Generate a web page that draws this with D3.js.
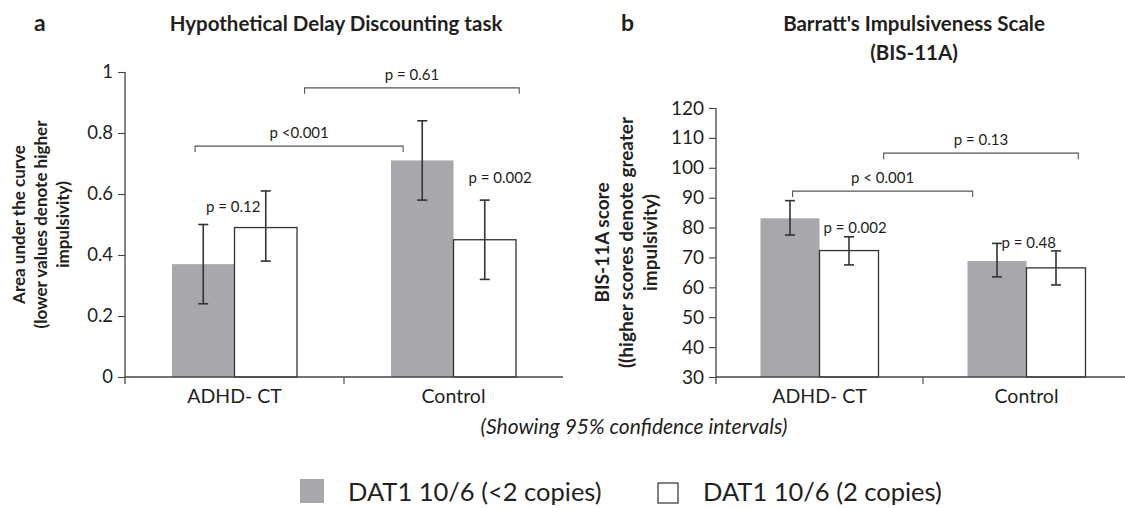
<!DOCTYPE html>
<html>
<head>
<meta charset="utf-8">
<script src="https://cdn.jsdelivr.net/npm/d3@7"></script>
<style>
  body { margin: 0; background: #fff; }
  svg { display: block; font-family: Lato, "Open Sans", sans-serif; }
  text { fill: #231f20; }
</style>
</head>
<body>
<svg id="chart" width="1125" height="508"></svg>
<script>
// categories and series
const groups = ["ADHD- CT", "Control"];
const seriesNames = ["DAT1 10/6 (<2 copies)", "DAT1 10/6 (2 copies)"];

// panel a: area under the curve (mean, lower CI, upper CI), one entry per group
const aucFew = [0.37, 0.71];
const aucFewLo = [0.24, 0.58];
const aucFewHi = [0.50, 0.84];
const aucTwo = [0.49, 0.45];
const aucTwoLo = [0.38, 0.32];
const aucTwoHi = [0.61, 0.58];
const aucTicks = [0, 0.2, 0.4, 0.6, 0.8, 1];

// panel b: BIS-11A score
const bisFew = [83.1, 68.8];
const bisFewLo = [77.5, 63.5];
const bisFewHi = [89.0, 74.7];
const bisTwo = [72.3, 66.5];
const bisTwoLo = [67.5, 60.8];
const bisTwoHi = [76.9, 72.2];
const bisTicks = [30, 40, 50, 60, 70, 80, 90, 100, 110, 120];

// p-values: between-group brackets (label, height) and within-group labels (label, height)
const aucBracketLabels = ["p <0.001", "p = 0.61"];
const aucBracketY = [0.757, 0.948];
const aucWithinLabels = ["p = 0.12", "p = 0.002"];
const aucWithinY = [0.54, 0.636];
const bisBracketLabels = ["p < 0.001", "p = 0.13"];
const bisBracketY = [92.2, 104.9];
const bisWithinLabels = ["p = 0.002", "p = 0.48"];
const bisWithinY = [78.2, 73.2];

const svg = d3.select("#chart");
const ink = "#231f20";
const grey = "#a7a8ab";

function drawPanel(cfg) {
    const g = svg.append("g");
    const y = d3.scaleLinear().domain(cfg.domain).range([cfg.bottom, cfg.top]);
    const x0 = d3.scaleBand().domain(groups).range([cfg.left, cfg.right]);
    const x1 = d3.scaleBand().domain(seriesNames).range(cfg.inner);

    const rows = groups.map((grp, i) => ({
        grp,
        bars: [
            { s: seriesNames[0], v: cfg.few[i], lo: cfg.fewLo[i], hi: cfg.fewHi[i] },
            { s: seriesNames[1], v: cfg.two[i], lo: cfg.twoLo[i], hi: cfg.twoHi[i] }
        ]
    }));

    // bars
    const grpSel = g.selectAll(".grp").data(rows).enter().append("g")
        .attr("transform", d => `translate(${x0(d.grp)},0)`);
    grpSel.selectAll("rect").data(d => d.bars).enter().append("rect")
        .attr("x", d => x1(d.s))
        .attr("y", d => y(d.v))
        .attr("width", x1.bandwidth())
        .attr("height", d => y(cfg.domain[0]) - y(d.v))
        .attr("fill", (d, i) => i === 0 ? grey : "#fff")
        .attr("stroke", (d, i) => i === 0 ? "none" : "#333")
        .attr("stroke-width", 1.3);

    // error bars
    const err = grpSel.selectAll(".err").data(d => d.bars).enter().append("g")
        .attr("stroke", "#333").attr("stroke-width", 1.6);
    err.append("line")
        .attr("x1", d => x1(d.s) + x1.bandwidth() / 2)
        .attr("x2", d => x1(d.s) + x1.bandwidth() / 2)
        .attr("y1", d => y(d.lo)).attr("y2", d => y(d.hi));
    [d => d.lo, d => d.hi].forEach(f => {
        err.append("line")
            .attr("x1", d => x1(d.s) + x1.bandwidth() / 2 - 5)
            .attr("x2", d => x1(d.s) + x1.bandwidth() / 2 + 5)
            .attr("y1", d => y(f(d))).attr("y2", d => y(f(d)));
    });

    // y axis
    const yAxis = g.append("g")
        .attr("transform", `translate(${cfg.left},0)`)
        .call(d3.axisLeft(y).tickValues(cfg.ticks).tickFormat(d3.format("~g"))
            .tickSize(7).tickSizeOuter(0).tickPadding(5));
    yAxis.select(".domain").attr("stroke", "#444").attr("stroke-width", 1.3)
        .attr("d", `M0,${cfg.bottom + 7}V${cfg.top}`);
    yAxis.selectAll(".tick line").attr("stroke", "#444").attr("stroke-width", 1.1);
    yAxis.selectAll(".tick text")
        .style("font-size", cfg.tickFont + "px").style("font-family", "Lato").attr("fill", ink);

    // x axis
    const xAxis = g.append("g")
        .attr("transform", `translate(0,${cfg.bottom})`)
        .call(d3.axisBottom(x0).tickSize(0).tickPadding(12));
    xAxis.select(".domain").attr("stroke", "#444").attr("stroke-width", 1.3)
        .attr("d", `M${cfg.left},0H${cfg.axisEnd}`);
    xAxis.selectAll(".tick text")
        .style("font-size", "19.5px").style("font-family", "Lato").attr("fill", ink);
    xAxis.append("line")
        .attr("x1", x0(groups[1])).attr("x2", x0(groups[1]))
        .attr("y1", 0).attr("y2", 7)
        .attr("stroke", "#444").attr("stroke-width", 1.1);

    // between-group brackets
    cfg.bracketY.forEach((v, i) => {
        const xa = x0(groups[0]) + cfg.bracketFrac[i][0] * x0.bandwidth();
        const xb = x0(groups[1]) + cfg.bracketFrac[i][1] * x0.bandwidth();
        const yy = y(v);
        g.append("path")
            .attr("d", `M${xa},${yy + 6}V${yy}H${xb}V${yy + 6}`)
            .attr("fill", "none").attr("stroke", "#555").attr("stroke-width", 1.1);
        g.append("text")
            .attr("x", (xa + xb) / 2).attr("y", yy - 8)
            .attr("text-anchor", "middle")
            .style("font-size", "15px")
            .text(cfg.bracketLabels[i]);
    });

    // within-group p-values
    cfg.withinY.forEach((v, i) => {
        const pos = cfg.withinPos[i];
        g.append("text")
            .attr("x", x0(groups[i]) + x1(seriesNames[pos.s]) + pos.dx)
            .attr("y", y(v))
            .attr("text-anchor", pos.anchor)
            .style("font-size", "15px")
            .text(cfg.withinLabels[i]);
    });

    // y label
    const yl = g.append("text")
        .attr("transform", `translate(${cfg.ylabX},${(cfg.top + cfg.bottom) / 2}) rotate(-90)`)
        .attr("text-anchor", "middle")
        .style("font-size", cfg.ylabFont + "px")
        .style("font-weight", "bold");
    cfg.ylab.forEach((t, i) => {
        yl.append("tspan").attr("x", 0).attr("y", i * cfg.ylabGap).text(t);
    });

    // panel letter and title
    g.append("text").attr("x", cfg.letterX).attr("y", 31)
        .style("font-size", "23px").style("font-weight", "bold").text(cfg.letter);
    cfg.title.forEach((t, i) => {
        g.append("text").attr("x", cfg.titleX).attr("y", 31 + i * 29)
            .attr("text-anchor", "middle")
            .style("font-size", "20.5px").style("font-weight", "bold")
            .text(t);
    });
}

drawPanel({
    domain: [0, 1], ticks: aucTicks, top: 72, bottom: 377,
    left: 125, right: 563, axisEnd: 563, inner: [47, 172],
    few: aucFew, fewLo: aucFewLo, fewHi: aucFewHi,
    two: aucTwo, twoLo: aucTwoLo, twoHi: aucTwoHi,
    bracketLabels: aucBracketLabels, bracketY: aucBracketY,
    bracketFrac: [[0.32, 0.27], [0.82, 0.80]],
    withinLabels: aucWithinLabels, withinY: aucWithinY,
    withinPos: [{ s: 1, dx: 26, anchor: "end" }, { s: 1, dx: 15, anchor: "start" }],
    tickFont: 18.5,
    ylab: ["Area under the curve", "(lower values denote higher", "impulsivity)"],
    ylabX: 25, ylabGap: 22, ylabFont: 17,
    letter: "a", letterX: 34,
    title: ["Hypothetical Delay Discounting task"], titleX: 336
});

drawPanel({
    domain: [30, 120], ticks: bisTicks, top: 108, bottom: 377,
    left: 716, right: 1130, axisEnd: 1125, inner: [44.5, 162.5],
    few: bisFew, fewLo: bisFewLo, fewHi: bisFewHi,
    two: bisTwo, twoLo: bisTwoLo, twoHi: bisTwoHi,
    bracketLabels: bisBracketLabels, bracketY: bisBracketY,
    bracketFrac: [[0.37, 0.24], [0.81, 0.75]],
    withinLabels: bisWithinLabels, withinY: bisWithinY,
    withinPos: [{ s: 1, dx: 4, anchor: "start" }, { s: 0, dx: 34, anchor: "start" }],
    tickFont: 19,
    ylab: ["BIS-11A score", "((higher scores denote greater", "impulsivity)"],
    ylabX: 609, ylabGap: 24, ylabFont: 19,
    letter: "b", letterX: 621,
    title: ["Barratt's Impulsiveness Scale", "(BIS-11A)"], titleX: 914
});

// caption
svg.append("text")
    .attr("x", 634).attr("y", 434)
    .attr("text-anchor", "middle")
    .style("font-size", "21px").style("font-style", "italic")
    .text("(Showing 95% confidence intervals)");

// legend
const legendX = [300, 658];
const legend = svg.selectAll(".legend").data(seriesNames).enter().append("g")
    .attr("transform", (d, i) => `translate(${legendX[i]},479)`);
legend.append("rect")
    .attr("width", (d, i) => i === 0 ? 24 : 20)
    .attr("height", (d, i) => i === 0 ? 24 : 20)
    .attr("y", (d, i) => i === 0 ? 0 : 4)
    .attr("fill", (d, i) => i === 0 ? grey : "#fff")
    .attr("stroke", (d, i) => i === 0 ? "none" : "#333")
    .attr("stroke-width", 1.2);
legend.append("text")
    .attr("x", (d, i) => i === 0 ? 48 : 45).attr("y", 22)
    .style("font-size", "25.5px")
    .text(d => d);
</script>
</body>
</html>
